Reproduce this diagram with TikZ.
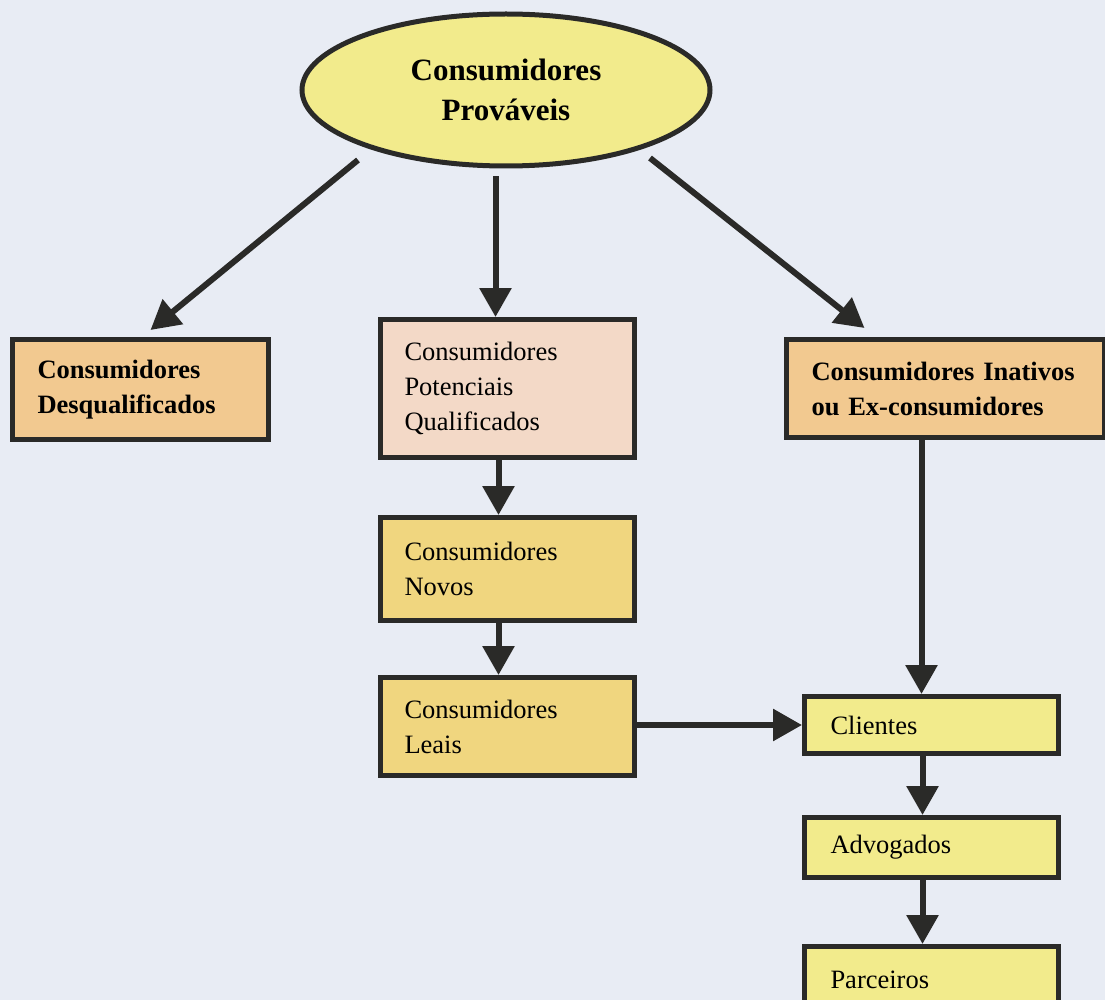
\documentclass[tikz,border=0pt]{standalone}
\usepackage{fontspec}
\setmainfont{Liberation Serif}
\usetikzlibrary{shapes.geometric,arrows.meta,calc}

\definecolor{bgpaper}{HTML}{E8ECF4}
\definecolor{edgedark}{HTML}{2A2A28}
\definecolor{fillyellow}{HTML}{F2EB8C}
\definecolor{fillorange}{HTML}{F2C990}
\definecolor{fillpink}{HTML}{F3D9C7}
\definecolor{fillgold}{HTML}{F0D67F}

\tikzset{
  boxtxt/.style={font=\fontsize{26.5}{35}\selectfont},
  stagebox/.style={draw=edgedark, line width=5pt, rectangle, anchor=north west,
    inner ysep=0pt, align=left, boxtxt},
  flowarrow/.style={draw=edgedark, line width=6pt,
    -{Triangle[width=31pt,length=29pt]}},
}

\begin{document}
\begin{tikzpicture}[x=1pt,y=-1pt]
  \clip (0,0) rectangle (1105,1000);
  \fill[bgpaper] (0,0) rectangle (1105,1000);

  % top ellipse
  \node[ellipse, draw=edgedark, line width=5pt, fill=fillyellow,
        minimum width=408pt, minimum height=152pt, inner sep=0pt, align=center,
        font=\fontsize{31}{40}\selectfont\bfseries]
        (ell) at (506,90) {Consumidores\\Prováveis};

  % first level
  \node[stagebox, fill=fillorange, font=\fontsize{26.5}{35}\selectfont\bfseries,
        minimum width=256pt, minimum height=100pt, inner xsep=25pt, text width=206pt]
        (desq) at (10,337) {Consumidores\\Desqualificados};
  \node[stagebox, fill=fillpink,
        minimum width=254pt, minimum height=138pt, inner xsep=24pt, text width=206pt]
        (pot) at (378,317) {Consumidores\\Potenciais\\Qualificados};
  \node[stagebox, fill=fillorange, font=\fontsize{26.5}{35}\selectfont\bfseries,
        minimum width=318pt, minimum height=98pt, inner xsep=25pt, text width=268pt]
        (inat) at (784,337) {Consumidores Inativos\\ou Ex-consumidores};

  % left column
  \node[stagebox, fill=fillgold,
        minimum width=254pt, minimum height=103pt, inner xsep=24pt, text width=206pt]
        (nov) at (378,515) {Consumidores\\Novos};
  \node[stagebox, fill=fillgold,
        minimum width=254pt, minimum height=98pt, inner xsep=24pt, text width=206pt]
        (lea) at (378,675) {Consumidores\\Leais};

  % right column
  \node[stagebox, fill=fillyellow,
        minimum width=254pt, minimum height=57pt, inner xsep=26pt, text width=202pt]
        (cli) at (802,694) {Clientes};
  \node[stagebox, fill=fillyellow,
        minimum width=254pt, minimum height=60pt, inner xsep=26pt, text width=202pt]
        (adv) at (802,815) {Advogados};
  \node[stagebox, fill=fillyellow,
        minimum width=254pt, minimum height=66pt, inner xsep=26pt, text width=202pt]
        (par) at (802,944) {Parceiros};

  % connectors
  \draw[flowarrow] ($(ell.center)+(-148,70)$) -- ($(desq.north)+(10,-7)$);
  \draw[flowarrow] ($(ell.south -| pot.north)+(-12,8)$) -- ($(pot.north)+(-12,0)$);
  \draw[flowarrow] ($(ell.center)+(144,68)$) -- ($(inat.north)+(-81,-9)$);
  \draw[flowarrow] ($(pot.south)+(-9,0)$) -- ($(nov.north)+(-9,0)$);
  \draw[flowarrow] ($(nov.south)+(-9,0)$) -- ($(lea.north)+(-9,0)$);
  \draw[flowarrow] ($(inat.south -| cli.north)+(-10,0)$) -- ($(cli.north)+(-10,0)$);
  \draw[flowarrow] (cli.west -| lea.east) -- (cli.west);
  \draw[flowarrow] ($(cli.south)+(-9,0)$) -- ($(adv.north)+(-9,0)$);
  \draw[flowarrow] ($(adv.south)+(-9,0)$) -- ($(par.north)+(-9,0)$);
\end{tikzpicture}
\end{document}
